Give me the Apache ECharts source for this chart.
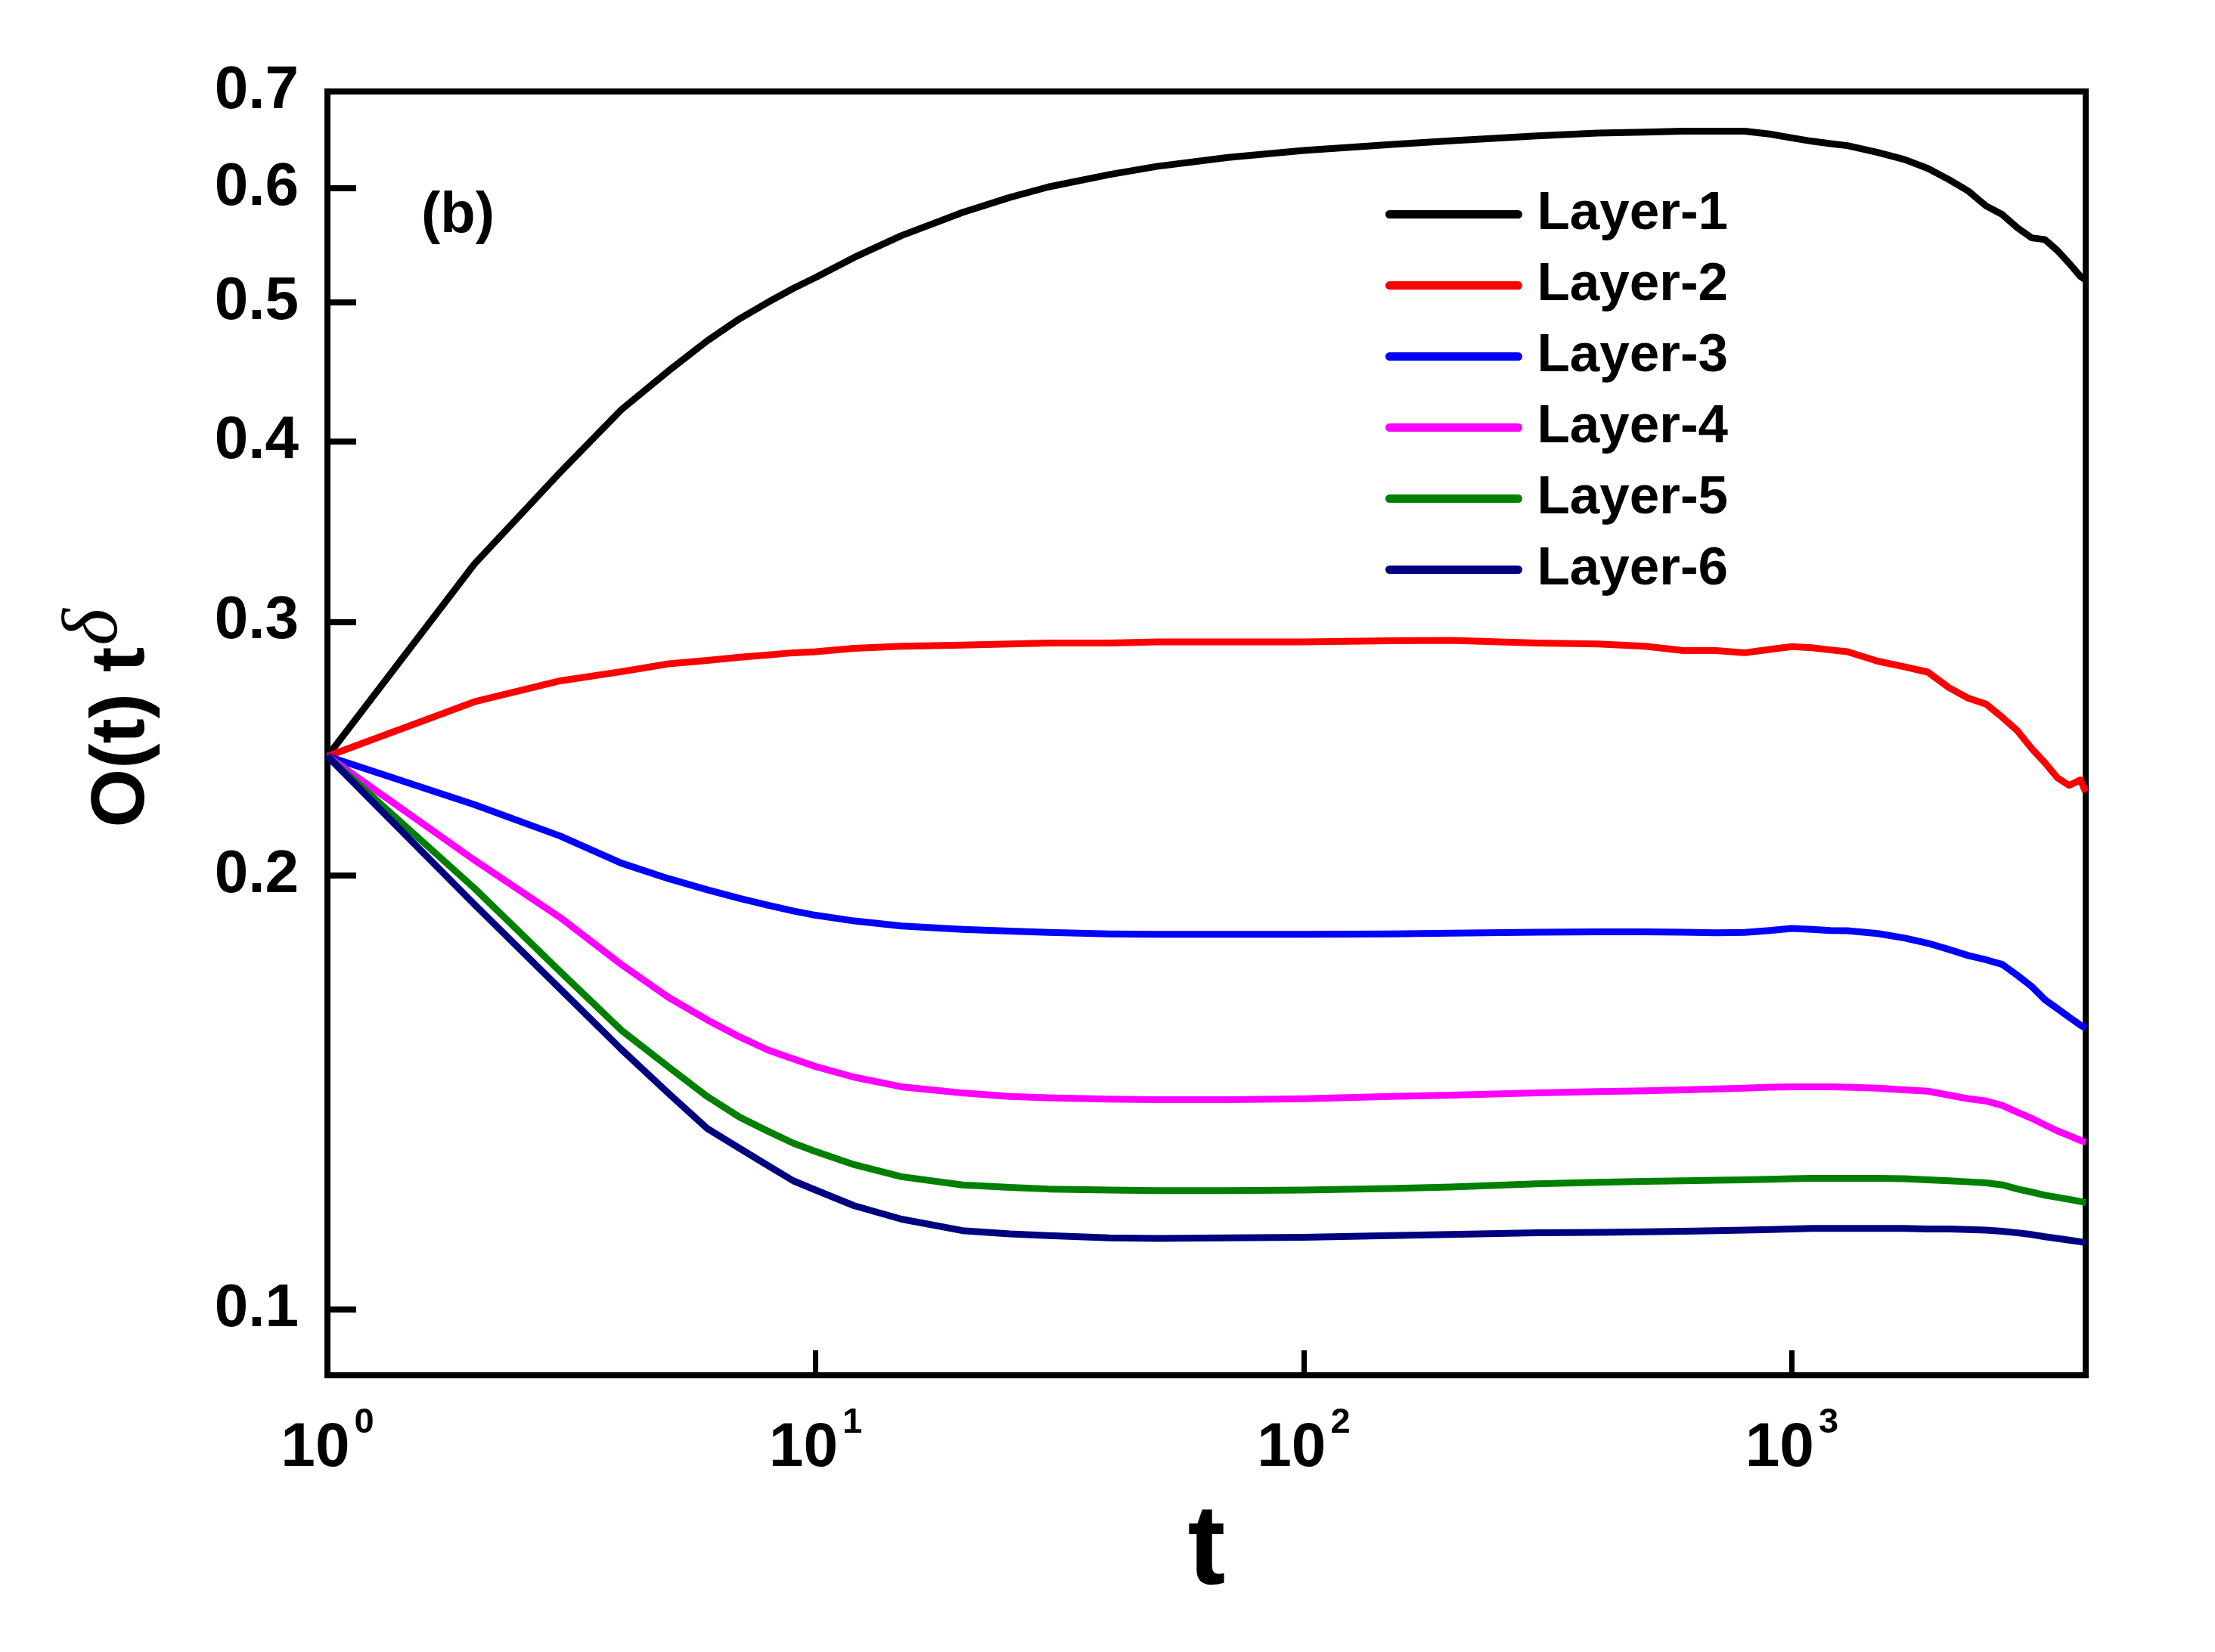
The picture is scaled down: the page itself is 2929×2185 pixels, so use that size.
<!DOCTYPE html>
<html>
<head>
<meta charset="utf-8">
<script src="https://cdn.jsdelivr.net/npm/echarts@6/dist/echarts.min.js"></script>
<style>
html,body{margin:0;padding:0;background:#fff;}
#chart{width:2929px;height:2185px;}
</style>
</head>
<body>
<div id="chart"></div>
<script>
const T = [1,2,3,4,5,6,7,8,9,10,12,15,20,25,30,40,50,70,100,150,200,300,400,500,600,700,800,900,1000,1100,1200,1300,1500,1700,1900,2100,2300,2500,2700,2900,3100,3300,3500,3700,3900,4000];

const layer1 = [0.242,0.329,0.381,0.421,0.448,0.470,0.487,0.500,0.511,0.520,0.537,0.556,0.577,0.591,0.601,0.613,0.621,0.630,0.637,0.643,0.647,0.652,0.655,0.656,0.657,0.657,0.657,0.654,0.650,0.6465,0.644,0.642,0.635,0.628,0.619,0.608,0.597,0.583,0.575,0.563,0.554,0.5525,0.543,0.532,0.521,0.518];
const layer2 = [0.242,0.264,0.273,0.277,0.2805,0.282,0.2835,0.2845,0.2855,0.286,0.2875,0.2885,0.289,0.2895,0.290,0.290,0.2905,0.2905,0.2905,0.291,0.2912,0.290,0.2895,0.2885,0.2865,0.2865,0.2855,0.2870,0.2883,0.2878,0.2868,0.2860,0.2817,0.2792,0.2768,0.2700,0.2655,0.2630,0.2575,0.2520,0.2450,0.2395,0.2338,0.2310,0.2330,0.2286];
const layer3 = [0.242,0.224,0.213,0.204,0.199,0.1955,0.1928,0.1907,0.189,0.1877,0.186,0.1845,0.1835,0.183,0.1826,0.1822,0.1821,0.1821,0.1821,0.1822,0.1824,0.1827,0.1828,0.1828,0.1827,0.1825,0.1826,0.1832,0.1838,0.1835,0.1832,0.1831,0.1823,0.1810,0.1795,0.1777,0.1760,0.1748,0.1735,0.1705,0.1675,0.1640,0.1617,0.1595,0.1575,0.1567];
const layer4 = [0.242,0.205,0.187,0.1735,0.1646,0.1588,0.1545,0.1513,0.1492,0.1474,0.1449,0.1427,0.1413,0.1405,0.1402,0.1399,0.1398,0.1398,0.1400,0.1405,0.1408,0.1413,0.1416,0.1418,0.1420,0.1422,0.1424,0.1426,0.1427,0.1427,0.1427,0.1426,0.1424,0.1420,0.1417,0.1408,0.1400,0.1395,0.1385,0.1370,0.1357,0.1343,0.1330,0.1320,0.1310,0.1306];
const layer5 = [0.242,0.196,0.1715,0.1562,0.1473,0.1405,0.1359,0.1329,0.1304,0.1287,0.1260,0.1236,0.1220,0.1215,0.1212,0.1210,0.1209,0.1209,0.1210,0.1213,0.1216,0.1222,0.1225,0.1227,0.1228,0.1229,0.1230,0.1231,0.1232,0.1233,0.1233,0.1233,0.1233,0.1232,0.1230,0.1228,0.1226,0.1224,0.1220,0.1212,0.1206,0.1200,0.1196,0.1192,0.1188,0.1186];
const layer6 = [0.242,0.191,0.1668,0.1515,0.1412,0.1335,0.1293,0.1258,0.1228,0.1210,0.1180,0.1155,0.1134,0.1128,0.1125,0.1121,0.1120,0.1121,0.1122,0.1125,0.1127,0.1130,0.1131,0.1132,0.1133,0.1134,0.1135,0.1136,0.1137,0.1138,0.1138,0.1138,0.1138,0.1138,0.1137,0.1137,0.1136,0.1135,0.1133,0.1130,0.1127,0.1123,0.1120,0.1117,0.1114,0.1113];

const seriesNames = ['Layer-1','Layer-2','Layer-3','Layer-4','Layer-5','Layer-6'];
const seriesColors = ['#000000','#ff0000','#0000ff','#ff00ff','#008000','#000080'];
const seriesValues = [layer1, layer2, layer3, layer4, layer5, layer6];

const xTickValues = [1,10,100,1000];
const yTickValues = [0.1,0.2,0.3,0.4,0.5,0.6,0.7];
const yTickLabels = ['0.1','0.2','0.3','0.4','0.5','0.6','0.7'];

const SANS = "'Liberation Sans', Arial, sans-serif";
const NARROW = "'Liberation Sans Narrow', 'Arial Narrow', 'Liberation Sans', sans-serif";

const chart = echarts.init(document.getElementById('chart'), null, {renderer:'canvas'});

const option = {
  animation: false,
  backgroundColor: '#ffffff',
  grid: {
    left: 433, right: 171, top: 121, bottom: 366,
    containLabel: false,
    outerBoundsMode: 'none',
    show: true,
    borderColor: '#000',
    borderWidth: 8,
    backgroundColor: 'transparent'
  },
  legend: {
    orient: 'vertical',
    left: 1832,
    top: 248,
    padding: 0,
    itemWidth: 170,
    itemHeight: 24,
    itemGap: 23,
    data: seriesNames,
    textStyle: {fontFamily: SANS, fontWeight: 'bold', fontSize: 71, color: '#000', lineHeight: 70, padding: [0,0,0,20]},
    itemStyle: {opacity: 0},
    lineStyle: {width: 11, cap: 'round'}
  },
  graphic: [{
    type: 'text',
    left: 557,
    top: 248,
    style: {text: '(b)', fontFamily: SANS, fontWeight: 'bold', fontSize: 76, fill: '#000'}
  }],
  xAxis: {
    type: 'log',
    logBase: 10,
    min: 1,
    max: 4000,
    name: 't',
    nameLocation: 'middle',
    nameGap: 160,
    nameTextStyle: {fontFamily: SANS, fontWeight: 'bold', fontSize: 150, color: '#000'},
    axisLine: {show: true, lineStyle: {color: '#000', width: 8}},
    axisTick: {show: true, inside: true, length: 33, lineStyle: {color: '#000', width: 7}, customValues: xTickValues},
    axisLabel: {
      show: true,
      margin: 40,
      customValues: xTickValues,
      formatter: function (v) {
        const e = Math.round(Math.log10(v));
        return '{b|10}{s|' + e + '}';
      },
      rich: {
        b: {fontFamily: NARROW, fontWeight: 'bold', fontSize: 82, color: '#000'},
        s: {fontFamily: NARROW, fontWeight: 'bold', fontSize: 47, color: '#000', padding: [0,0,67,6]}
      }
    },
    splitLine: {show: false},
    minorTick: {show: false}
  },
  yAxis: {
    type: 'log',
    logBase: 10,
    min: 0.09,
    max: 0.7,
    name: '{a|O(t) t}{d|δ}',
    nameLocation: 'middle',
    nameGap: 184,
    nameRotate: 90,
    nameTextStyle: {
      color: '#000',
      rich: {
        a: {fontFamily: SANS, fontWeight: 'bold', fontSize: 100, color: '#000', padding: [0,0,0,40]},
        d: {fontFamily: "'Liberation Serif', 'Times New Roman', serif", fontStyle: 'italic', fontSize: 104, color: '#000', padding: [0,0,70,2]}
      }
    },
    axisLine: {show: true, lineStyle: {color: '#000', width: 8}},
    axisTick: {show: true, inside: true, length: 38, lineStyle: {color: '#000', width: 8}, customValues: yTickValues},
    axisLabel: {
      show: true,
      margin: 38,
      customValues: yTickValues,
      formatter: function (v) {
        const i = yTickValues.findIndex(function (t) { return Math.abs(t - v) < 1e-9; });
        return i >= 0 ? yTickLabels[i] : String(v);
      },
      fontFamily: SANS, fontWeight: 'bold', fontSize: 80, color: '#000'
    },
    splitLine: {show: false},
    minorTick: {show: false}
  },
  series: seriesNames.map(function (name, k) {
    return {
      name: name,
      type: 'line',
      symbol: 'none',
      showSymbol: false,
      smooth: false,
      color: seriesColors[k],
      lineStyle: {color: seriesColors[k], width: 9, join: 'round'},
      data: T.map(function (t, i) { return [t, seriesValues[k][i]]; })
    };
  })
};
chart.setOption(option);
</script>
</body>
</html>
